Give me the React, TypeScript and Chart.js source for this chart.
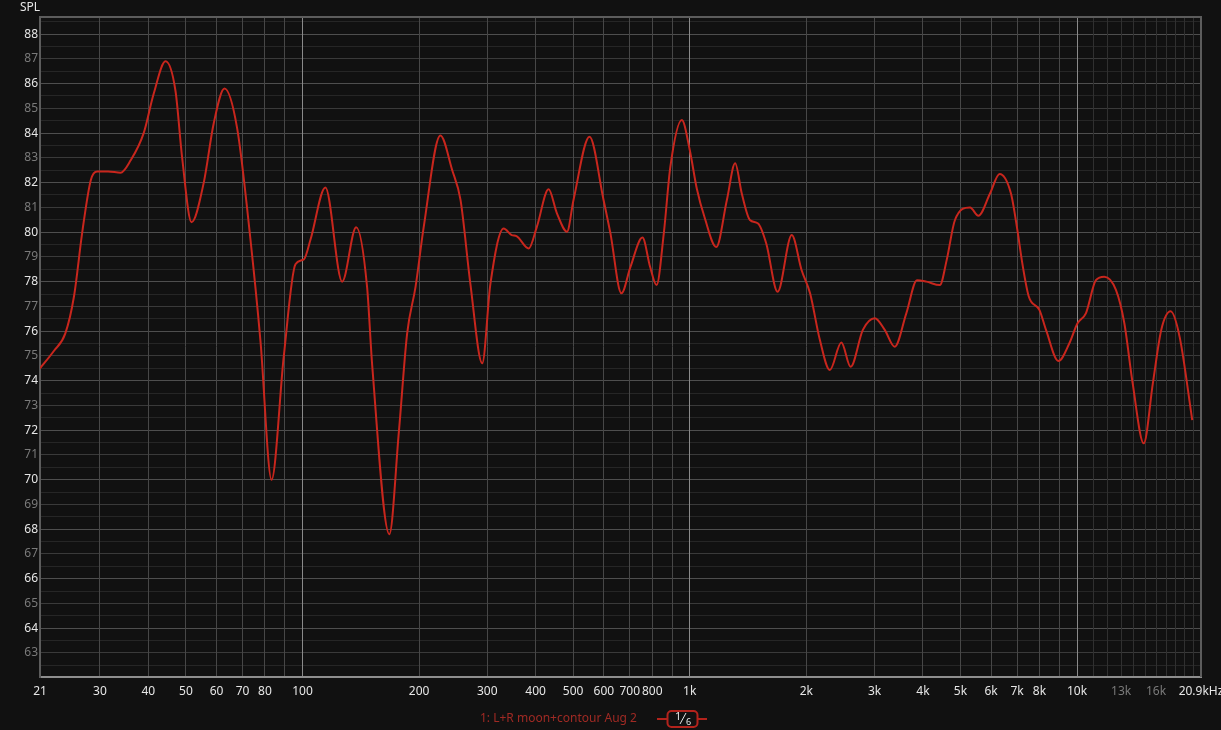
import React, { useEffect, useRef } from 'react';
import { Chart, registerables } from 'chart.js';

Chart.register(...registerables);

// Frequency (Hz) and SPL (dB) of the measured response
const FREQ = [
  21, 22.8, 24.4, 25.7, 27.0, 28.4, 29.5, 31.5, 33.9, 36.0, 38.9, 41.3, 44.3, 47.0, 48.9,
  51.7, 55.6, 59.0, 62.9, 67.8, 73.4, 77.9, 83.2, 89.5, 95.9, 100.8, 104.9, 114.6, 126.6,
  137.6, 146.8, 151.4, 167.6, 177.3, 186.3, 195.9, 205.6, 227, 243.6, 255.9, 271.4, 291.2,
  305.6, 330.7, 347, 357, 383.8, 403, 432, 454, 482, 501, 551, 599, 624, 666, 703, 755, 790,
  821, 857, 891, 954, 1000, 1043, 1092, 1171, 1247, 1310, 1362, 1430, 1501, 1576, 1686,
  1834, 1944, 2045, 2168, 2300, 2463, 2603, 2799, 3005, 3188, 3382, 3624, 3862, 4084, 4424,
  4607, 4840, 5293, 5563, 5961, 6311, 6752, 7015, 7224, 7510, 8000, 8317, 8954, 9550, 10030,
  10540, 11190, 11760, 12610, 13250, 13920, 14870, 15700, 16500, 17450, 18400, 19840,
];
const SPL = [
  74.5, 75.2, 75.9, 77.4, 80.0, 82.1, 82.45, 82.45, 82.4, 82.9, 84.0, 85.6, 86.9, 85.7, 83.0,
  80.4, 82.0, 84.4, 85.8, 84.2, 79.7, 75.6, 70.0, 75.0, 78.7, 78.9, 79.7, 81.8, 78.0,
  80.2, 77.8, 74.6, 67.8, 71.9, 75.9, 77.8, 80.2, 83.9, 82.5, 81.3, 77.9, 74.7,
  77.9, 80.15, 79.88, 79.84, 79.34, 80.22, 81.73, 80.76, 80.02, 81.3, 83.85, 81.3, 79.95, 77.53, 78.6, 79.78, 78.6,
  77.86, 79.95, 82.64, 84.53, 83.32, 81.75, 80.6, 79.4, 81.3, 82.78, 81.57, 80.49, 80.35, 79.54, 77.59,
  79.88, 78.47, 77.53, 75.64, 74.43, 75.54, 74.56, 76.05, 76.52, 76.05, 75.37, 76.72, 78.06, 78.0, 77.86,
  78.87, 80.49, 81.0, 80.66, 81.56, 82.35, 81.56, 80.08, 78.74, 77.39, 76.85, 76.05, 74.79, 75.5, 76.32,
  76.72, 78.06, 78.2, 77.66, 76.32, 73.9, 71.47, 73.9, 76.05, 76.8, 75.78, 72.41,
];

// X grid lines (Hz) and labelled ones
const X_GRID = [
  21, 30, 40, 50, 60, 70, 80, 90, 100, 200, 300, 400, 500, 600, 700, 800, 900,
  1000, 2000, 3000, 4000, 5000, 6000, 7000, 8000, 9000, 10000, 11000, 12000, 13000,
  14000, 15000, 16000, 17000, 18000, 19000, 20000, 20900,
];
const X_LABEL_VALUES = [
  21, 30, 40, 50, 60, 70, 80, 100, 200, 300, 400, 500, 600, 700, 800, 1000, 2000, 3000,
  4000, 5000, 6000, 7000, 8000, 10000, 13000, 16000, 20900,
];
const X_LABEL_TEXT = [
  '21', '30', '40', '50', '60', '70', '80', '100', '200', '300', '400', '500', '600', '700',
  '800', '1k', '2k', '3k', '4k', '5k', '6k', '7k', '8k', '10k', '13k', '16k', '20.9kHz',
];
const X_DIM_LABELS = [13000, 16000];
const X_MAJOR = [100, 1000, 10000];

// Y labels (dB)
const Y_LABELS = [63, 64, 65, 66, 67, 68, 69, 70, 71, 72, 73, 74, 75, 76, 77, 78, 79, 80, 81, 82, 83, 84, 85, 86, 87, 88];
const Y_MIN = 62.03;
const Y_MAX = 88.69;
const X_MIN = 21;
const X_MAX = 20900;

const SERIES_NAME = '1: L+R moon+contour Aug 2';
const FONT = '"Noto Sans", "Open Sans", sans-serif';

export default function App() {
  const ref = useRef<HTMLCanvasElement | null>(null);

  useEffect(() => {
    const canvas = ref.current;
    if (!canvas) return;

    const yTicks: number[] = [];
    Y_LABELS.forEach((v) => {
      yTicks.push(v - 0.5);
      yTicks.push(v);
    });
    yTicks.push(88.5);

    const framePlugin = {
      id: 'frame',
      beforeDatasetsDraw(chart: any) {
        const { ctx, chartArea } = chart;
        ctx.save();
        ctx.strokeStyle = '#5c5c5c';
        ctx.lineWidth = 2;
        ctx.beginPath();
        ctx.moveTo(chartArea.left, chartArea.top);
        ctx.lineTo(chartArea.right, chartArea.top);
        ctx.lineTo(chartArea.right, chartArea.bottom);
        ctx.stroke();
        ctx.restore();
      },
      afterDraw(chart: any) {
        const { ctx } = chart;
        ctx.save();
        ctx.font = `12px ${FONT}`;
        ctx.fillStyle = '#e6e6e6';
        ctx.textAlign = 'left';
        ctx.textBaseline = 'middle';
        ctx.fillText('SPL', 20, 8);

        ctx.fillStyle = '#a02a24';
        ctx.fillText(SERIES_NAME, 480, 719);

        ctx.strokeStyle = '#b3231c';
        ctx.lineWidth = 2;
        ctx.beginPath();
        ctx.moveTo(657, 719);
        ctx.lineTo(707, 719);
        ctx.stroke();
        ctx.fillStyle = '#111111';
        ctx.beginPath();
        (ctx as any).roundRect(667.5, 711, 30, 16, 4);
        ctx.fill();
        ctx.stroke();
        ctx.fillStyle = '#e6e6e6';
        ctx.font = `11px ${FONT}`;
        ctx.fillText('1', 675, 717);
        ctx.strokeStyle = '#e6e6e6';
        ctx.lineWidth = 1;
        ctx.beginPath();
        ctx.moveTo(680, 724);
        ctx.lineTo(686, 713);
        ctx.stroke();
        ctx.font = `9px ${FONT}`;
        ctx.fillText('6', 686, 722);
        ctx.restore();
      },
    };

    const chart = new Chart(canvas, {
      type: 'line',
      data: {
        datasets: [
          {
            label: SERIES_NAME,
            data: FREQ.map((f, i) => ({ x: f, y: SPL[i] })),
            borderColor: '#c8261d',
            borderWidth: 2,
            pointRadius: 0,
            cubicInterpolationMode: 'monotone',
            fill: false,
          },
        ],
      },
      options: {
        animation: false,
        responsive: false,
        maintainAspectRatio: false,
        parsing: false as any,
        layout: { padding: { top: 17, right: 20, left: 0, bottom: 0 } },
        plugins: {
          legend: { display: false },
          tooltip: { enabled: false },
          title: { display: false },
        },
        scales: {
          x: {
            type: 'logarithmic',
            min: X_MIN,
            max: X_MAX,
            afterBuildTicks: (scale: any) => {
              scale.ticks = X_GRID.map((v) => ({ value: v }));
            },
            afterFit: (scale: any) => {
              scale.height = 53;
              scale.paddingLeft = 0;
              scale.paddingRight = 0;
            },
            border: { display: true, color: '#8e8e8e', width: 2 },
            grid: {
              z: -1,
              drawTicks: false,
              tickLength: 0,
              lineWidth: 1,
              color: (ctx: any) => {
                const v = ctx.tick ? ctx.tick.value : 0;
                if (X_MAJOR.includes(v)) return '#8a8a8a';
                if (v === X_MAX) return '#5c5c5c';
                if (v > 10000) return '#303030';
                return '#474747';
              },
            },
            ticks: {
              autoSkip: false,
              maxRotation: 0,
              minRotation: 0,
              padding: 7,
              font: { family: FONT, size: 12 },
              color: (ctx: any) => {
                const v = ctx.tick ? ctx.tick.value : 0;
                return X_DIM_LABELS.includes(v) ? '#7a7a7a' : '#e6e6e6';
              },
              callback: (value: any) => {
                const i = X_LABEL_VALUES.indexOf(Number(value));
                return i >= 0 ? X_LABEL_TEXT[i] : '';
              },
            },
          },
          y: {
            type: 'linear',
            min: Y_MIN,
            max: Y_MAX,
            afterBuildTicks: (scale: any) => {
              scale.ticks = yTicks.map((v) => ({ value: v }));
            },
            afterFit: (scale: any) => {
              scale.width = 40;
              scale.paddingTop = 0;
              scale.paddingBottom = 0;
            },
            border: { display: true, color: '#5c5c5c', width: 2 },
            grid: {
              z: -2,
              drawTicks: false,
              tickLength: 0,
              lineWidth: 1,
              color: (ctx: any) => {
                const v = ctx.tick ? ctx.tick.value : 0;
                if (!Number.isInteger(v)) return '#262626';
                return v % 2 === 0 ? '#4e4e4e' : '#3a3a3a';
              },
            },
            ticks: {
              autoSkip: false,
              padding: 2,
              font: { family: FONT, size: 12 },
              color: (ctx: any) => {
                const v = ctx.tick ? ctx.tick.value : 0;
                return v % 2 === 0 ? '#e6e6e6' : '#7a7a7a';
              },
              callback: (value: any) => {
                const v = Number(value);
                return Y_LABELS.includes(v) ? String(v) : '';
              },
            },
          },
        },
      },
      plugins: [framePlugin],
    });

    return () => {
      chart.destroy();
    };
  }, []);

  return (
    <div
      style={{
        position: 'fixed',
        left: 0,
        top: 0,
        width: 1221,
        height: 730,
        background: '#111111',
      }}
    >
      <canvas ref={ref} width={1221} height={730} style={{ display: 'block', width: 1221, height: 730 }} />
    </div>
  );
}
